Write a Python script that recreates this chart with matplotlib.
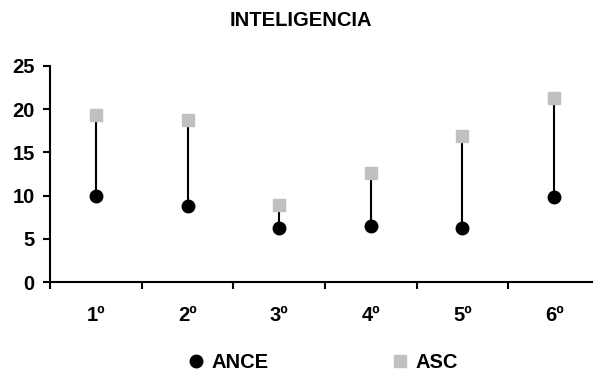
import matplotlib.pyplot as plt

plt.rcParams['font.family'] = ['Liberation Sans', 'DejaVu Sans']
plt.rcParams['font.weight'] = 'bold'

# values
cursos = ['1º', '2º', '3º', '4º', '5º', '6º']
ance = [10.0, 8.8, 6.3, 6.5, 6.3, 9.8]
asc = [19.3, 18.8, 8.9, 12.6, 16.9, 21.3]

fig = plt.figure(figsize=(5.93, 3.73), dpi=100)
ax = fig.add_axes([50 / 593, 91 / 373, 550 / 593, 216 / 373])

x = range(len(cursos))
# high-low lines between the two series
ax.vlines(x, ance, asc, color='black', linewidth=1.5, zorder=1)
ax.plot(x, ance, 'o', color='black', markersize=9, linestyle='none', label='ANCE', zorder=3)
ax.plot(x, asc, 's', color='#C0C0C0', markersize=8.5, linestyle='none', label='ASC', zorder=3)

ax.set_xlim(-0.5, 5.5)
ax.set_ylim(0, 25)
ax.set_yticks([0, 5, 10, 15, 20, 25])
ax.set_xticks([i - 0.5 for i in range(6)])
ax.set_xticklabels([])
ax.set_xticks(list(x), minor=True)
ax.set_xticklabels(cursos, minor=True)
ax.tick_params(axis='x', which='minor', length=0, pad=17, labelsize=14.5)
ax.tick_params(axis='x', which='major', direction='out', length=5, width=1.5)
ax.tick_params(axis='y', direction='out', length=5, width=1.5, labelsize=14.5, pad=6)

for s in ['top', 'right']:
    ax.spines[s].set_visible(False)
for s in ['left', 'bottom']:
    ax.spines[s].set_linewidth(1.5)

fig.text(301 / 593, 1 - 20 / 373, 'INTELIGENCIA', ha='center', va='center', fontsize=14.5, fontweight='bold')

fig.legend(loc='center', bbox_to_anchor=(322 / 593, 10 / 373), ncol=2, frameon=False,
           fontsize=14.5, columnspacing=6.0, handletextpad=0.3, handlelength=1.0)

fig.savefig('out.png', dpi=100)
